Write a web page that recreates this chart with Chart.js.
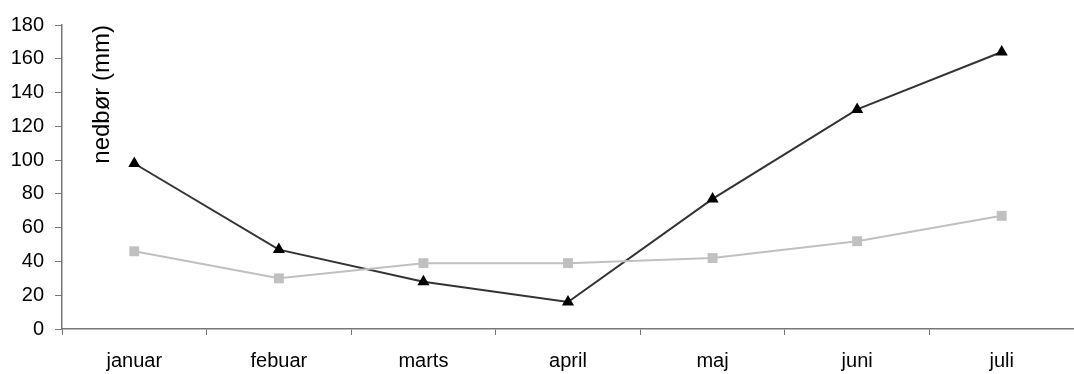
<!DOCTYPE html>
<html>
<head>
<meta charset="utf-8">
<script src="https://cdn.jsdelivr.net/npm/chart.js@4/dist/chart.umd.min.js"></script>
<style>
html,body{margin:0;padding:0;background:#fff;}
#wrap{width:1074px;height:374px;position:relative;}
</style>
</head>
<body>
<div id="wrap"><canvas id="c" width="1074" height="374"></canvas></div>
<script>
const categories = ["januar", "febuar", "marts", "april", "maj", "juni", "juli"];
const seriesBlack = [98, 47, 28, 16, 77, 130, 164];
const seriesGray = [46, 30, 39, 39, 42, 52, 67];
const yTicks = [0, 20, 40, 60, 80, 100, 120, 140, 160, 180];
const yTitle = "nedbør (mm)";

const FONT = "'Liberation Sans', Arial, sans-serif";

const titlePlugin = {
  id: 'innerTitle',
  afterDraw(chart) {
    const ctx = chart.ctx;
    const a = chart.chartArea;
    ctx.save();
    ctx.translate(a.left + 40, a.top);
    ctx.rotate(-Math.PI / 2);
    ctx.font = "24px " + FONT;
    ctx.fillStyle = "#000";
    ctx.textAlign = "right";
    ctx.textBaseline = "middle";
    ctx.fillText(yTitle, 0, 0);
    ctx.restore();
  }
};

new Chart(document.getElementById('c'), {
  type: 'line',
  data: {
    labels: categories,
    datasets: [
      {
        data: seriesGray,
        borderColor: '#c0c0c0',
        backgroundColor: '#c0c0c0',
        borderWidth: 2,
        pointStyle: 'rect',
        pointRadius: 7,
        pointBorderWidth: 0,
        tension: 0,
        fill: false,
        clip: false
      },
      {
        data: seriesBlack,
        borderColor: '#333333',
        backgroundColor: '#000000',
        borderWidth: 2,
        pointStyle: 'triangle',
        pointRadius: 7,
        pointBorderWidth: 0,
        tension: 0,
        fill: false,
        clip: false
      }
    ]
  },
  options: {
    responsive: false,
    animation: false,
    devicePixelRatio: 1,
    layout: { autoPadding: false, padding: { top: 25, right: -3, left: 0, bottom: 0 } },
    plugins: { legend: { display: false }, tooltip: { enabled: false } },
    scales: {
      x: {
        offset: true,
        grid: { display: true, drawOnChartArea: false, drawTicks: true, tickLength: 6, offset: true, color: '#777' },
        border: { display: true, color: '#777', width: 1.5 },
        ticks: { color: '#000', font: { family: FONT, size: 20 }, padding: 14, maxRotation: 0 },
        afterFit(s) { s.height = 45; s.paddingLeft = 0; s.paddingRight = 0; }
      },
      y: {
        min: 0,
        max: 180,
        afterBuildTicks(s) { s.ticks = yTicks.map(v => ({ value: v })); },
        grid: { display: true, drawOnChartArea: false, drawTicks: true, tickLength: 7, color: '#777' },
        border: { display: true, color: '#777', width: 1.5 },
        ticks: { color: '#000', font: { family: FONT, size: 20 }, padding: 11 },
        afterFit(s) { s.width = 62; s.paddingTop = 0; s.paddingBottom = 0; }
      }
    }
  },
  plugins: [titlePlugin]
});
</script>
</body>
</html>
